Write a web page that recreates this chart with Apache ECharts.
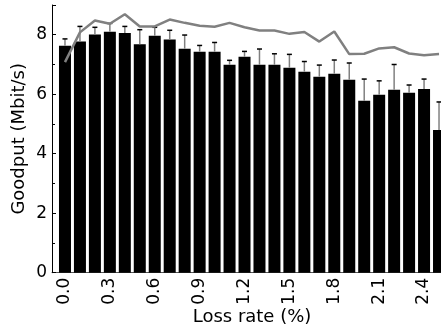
<!DOCTYPE html>
<html>
<head>
<meta charset="utf-8">
<script src="https://cdn.jsdelivr.net/npm/echarts@6/dist/echarts.min.js"></script>
<style>html,body{margin:0;padding:0;background:#fff;}#c{width:441px;height:332px;}</style>
</head>
<body>
<div id="c"></div>
<script>
var lossRates = ['0.0','0.1','0.2','0.3','0.4','0.5','0.6','0.7','0.8','0.9','1.0','1.1','1.2','1.3','1.4','1.5','1.6','1.7','1.8','1.9','2.0','2.1','2.2','2.3','2.4','2.5'];
var goodputMean = [7.63,7.77,8.01,8.10,8.06,7.68,7.97,7.84,7.53,7.43,7.43,6.99,7.26,6.99,6.99,6.89,6.76,6.59,6.69,6.49,5.78,5.98,6.15,6.05,6.18,4.80];
var goodputErrTop = [7.86,8.28,8.25,8.38,8.28,8.17,8.25,8.15,7.99,7.64,7.74,7.14,7.44,7.52,7.36,7.34,7.10,6.98,7.15,7.05,6.51,6.45,7.00,6.31,6.51,5.74];
var referenceLine = [7.08,8.08,8.48,8.37,8.69,8.28,8.28,8.51,8.40,8.30,8.27,8.40,8.25,8.14,8.14,8.03,8.09,7.77,8.11,7.35,7.36,7.54,7.58,7.37,7.31,7.35];
var yTicks = [0,2,4,6,8];

var FONT = 'DejaVu Sans';
var chart = echarts.init(document.getElementById('c'), null, {renderer:'canvas'});
var errData = goodputMean.map(function(v,i){ return [i, v, goodputErrTop[i]]; });

chart.setOption({
  animation:false,
  backgroundColor:'#fff',
  grid:[
    {left:57.5, width:389, top:5, bottom:59.3, outerBoundsMode:'none', containLabel:false},
    {left:52, right:0, top:5, bottom:59.3, outerBoundsMode:'none', containLabel:false}
  ],
  xAxis:[
    {type:'category', gridIndex:0, data:lossRates, boundaryGap:true,
     axisLine:{show:false}, axisTick:{show:false},
     axisLabel:{interval:2, rotate:90, fontFamily:FONT, fontSize:17, color:'#000', margin:5},
     name:'Loss rate (%)', nameLocation:'middle', nameGap:36, nameMoveOverlap:false,
     nameTextStyle:{fontFamily:FONT, fontSize:18, color:'#000'}},
    {type:'value', gridIndex:1, min:0, max:1,
     axisLine:{show:true, lineStyle:{color:'#555', width:1}},
     axisTick:{show:false}, axisLabel:{show:false}, splitLine:{show:false}}
  ],
  yAxis:[
    {type:'value', gridIndex:0, min:0, max:9, show:false, splitLine:{show:false}},
    {type:'value', gridIndex:1, min:0, max:9, interval:2,
     axisLine:{show:true, lineStyle:{color:'#000', width:1}},
     axisTick:{show:true, inside:true, length:4, lineStyle:{color:'#000'}},
     minorTick:{show:true, splitNumber:2, length:3, lineStyle:{color:'#000'}},
     axisLabel:{fontFamily:FONT, fontSize:17, color:'#000', margin:5, showMaxLabel:false,
       formatter:function(v){ return yTicks.indexOf(v) >= 0 ? String(v) : ''; }},
     splitLine:{show:false},
     name:'Goodput (Mbit/s)', nameLocation:'middle', nameGap:24, nameMoveOverlap:false,
     nameTextStyle:{fontFamily:FONT, fontSize:18, color:'#000'}}
  ],
  series:[
    {type:'bar', xAxisIndex:0, yAxisIndex:0, data:goodputMean, barWidth:12,
     itemStyle:{color:'#000'}, z:2},
    {type:'custom', xAxisIndex:0, yAxisIndex:0, data:errData, z:3,
     renderItem:function(params, api){
       var p0 = api.coord([api.value(0), api.value(1)]);
       var p1 = api.coord([api.value(0), api.value(2)]);
       return {type:'group', children:[
         {type:'line', shape:{x1:p0[0], y1:p0[1], x2:p1[0], y2:p1[1]}, style:{stroke:'#808080', lineWidth:1.5}},
         {type:'line', shape:{x1:p1[0]-2.5, y1:p1[1], x2:p1[0]+2.5, y2:p1[1]}, style:{stroke:'#000', lineWidth:1.5}}
       ]};
     }},
    {type:'line', xAxisIndex:0, yAxisIndex:0, data:referenceLine, showSymbol:false, symbol:'none',
     lineStyle:{color:'#808080', width:2.5}, z:4}
  ]
});
</script>
</body>
</html>
